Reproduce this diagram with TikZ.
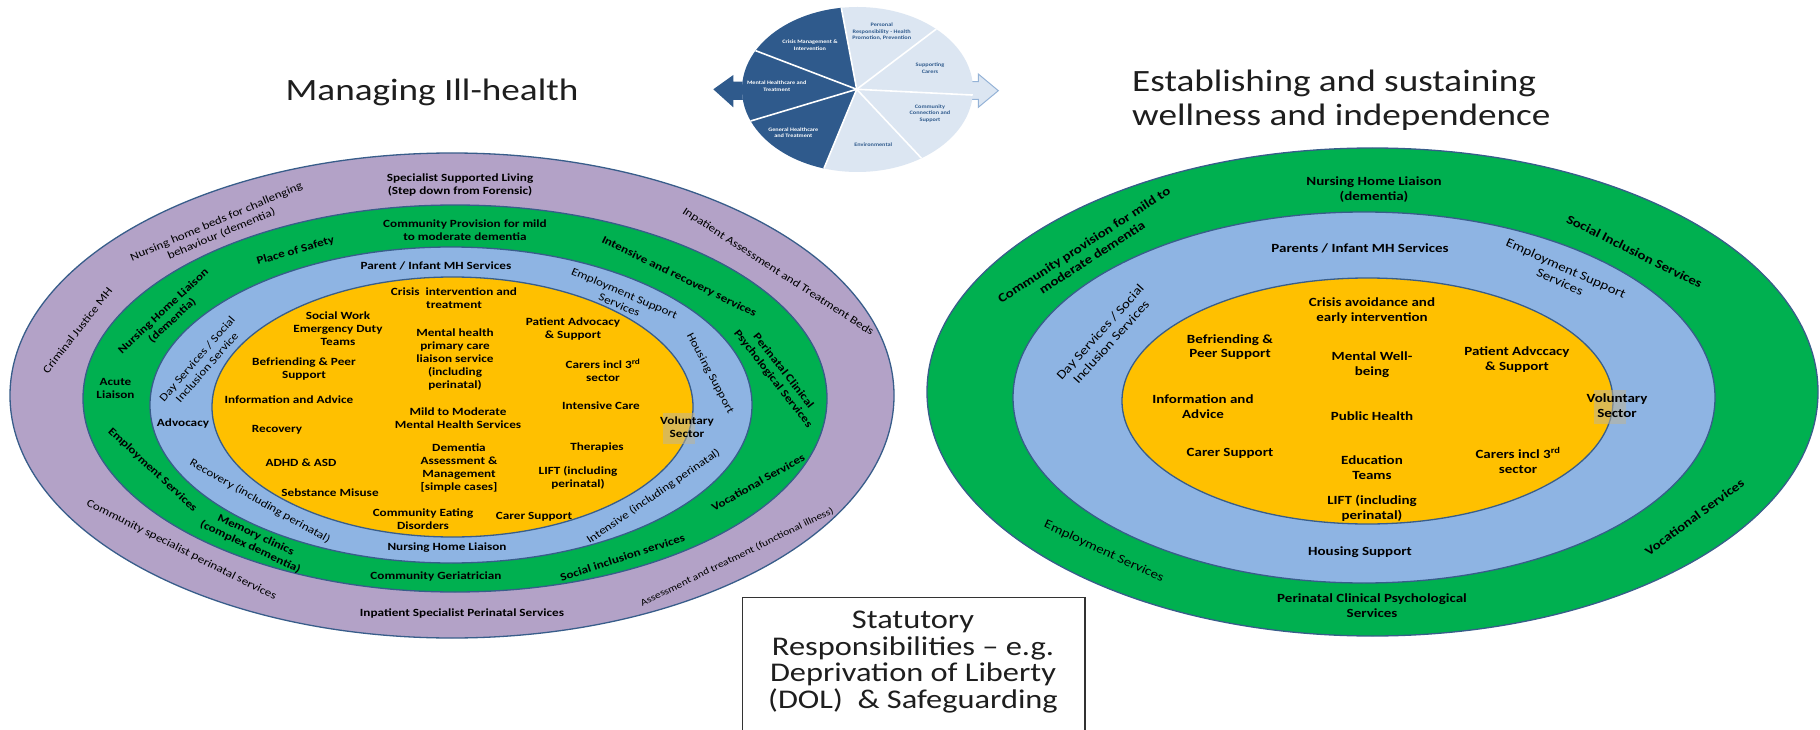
\documentclass[tikz,border=0pt]{standalone}
\usepackage{fontspec}
\setmainfont{Carlito}[FakeStretch=1.2]
\usetikzlibrary{calc}
\definecolor{purp}{RGB}{179,162,199}
\definecolor{grn}{RGB}{0,176,80}
\definecolor{lblue}{RGB}{142,180,227}
\definecolor{yel}{RGB}{255,192,0}
\definecolor{edgec}{RGB}{56,93,138}
\definecolor{piedark}{RGB}{47,90,140}
\definecolor{pielight}{RGB}{220,230,242}
\definecolor{arrowedge}{RGB}{149,179,215}
\definecolor{titlec}{RGB}{30,30,30}
\definecolor{patchc}{RGB}{190,180,150}
\begin{document}
\begin{tikzpicture}[x=1pt,y=-1pt,
  ring/.style={draw=edgec, line width=1.3pt},
  lt/.style={font=\fontsize{11}{13}\selectfont\bfseries, align=center, inner sep=0pt, text=black},
  ltr/.style={font=\fontsize{11}{13}\selectfont, align=center, inner sep=0pt, text=black},
  rt/.style={font=\fontsize{12.5}{14.8}\selectfont\bfseries, align=center, inner sep=0pt, text=black},
  rtr/.style={font=\fontsize{12.5}{14.8}\selectfont, align=center, inner sep=0pt, text=black},
  pietxt/.style={font=\fontsize{5.2}{6.7}\selectfont\bfseries, align=center, inner sep=0pt},
  titletxt/.style={font=\fontsize{31}{34}\selectfont, inner sep=0pt, text=titlec},
  boxtxt/.style={font=\fontsize{27}{26.7}\selectfont, align=center, inner sep=0pt, text=titlec},
  volpatch/.style={fill=patchc, opacity=0.55}
]
\useasboundingbox (0,0) rectangle (1820,730);
\fill[white] (0,0) rectangle (1820,730);

% ---------- left rings ----------
\filldraw[ring,fill=purp] (452,395.5) ellipse [x radius=442pt,y radius=242.5pt];
\filldraw[ring,fill=grn] (455,398.5) ellipse [x radius=372pt,y radius=193.5pt];
\filldraw[ring,fill=lblue] (451,405) ellipse [x radius=301pt,y radius=158pt];
\filldraw[ring,fill=yel] (452.5,407) ellipse [x radius=240.5pt,y radius=130pt];

% ---------- right rings ----------
\filldraw[ring,fill=grn] (1372.5,392) ellipse [x radius=445.5pt,y radius=244pt];
\filldraw[ring,fill=lblue] (1364,397.5) ellipse [x radius=351pt,y radius=185.5pt];
\filldraw[ring,fill=yel] (1367.5,401) ellipse [x radius=245.5pt,y radius=123pt];

\fill[volpatch] (663,413) rectangle (695,444);
\fill[volpatch] (1594,390) rectangle (1626,424);

% ---------- pie ----------
\fill[piedark] (745,81.7) -- (733.3,81.7) -- (733.3,75) -- (713.3,89.3) -- (733.3,107.3) -- (733.3,100) -- (745,100) -- cycle;
\filldraw[fill=pielight, draw=arrowedge, line width=1pt] (968,81.7) -- (978.3,81.7) -- (978.3,74) -- (998.3,90.7) -- (978.3,107.3) -- (978.3,99.3) -- (968,99.3) -- cycle;
\coordinate (pc) at (856.7,89.3);
\coordinate (e1) at (841.7,10);
\coordinate (e2) at (758.3,51.7);
\coordinate (e3) at (748.3,121.7);
\coordinate (e4) at (823.3,170);
\coordinate (e5) at (920,156.7);
\coordinate (e6) at (971.7,95);
\coordinate (e7) at (935,30);
\fill[pielight] (857.5,89.5) ellipse [x radius=115.5pt, y radius=82.5pt];
\begin{scope}
\clip (857.5,89.5) ellipse [x radius=115.5pt, y radius=82.5pt];
\fill[piedark] (pc) -- ($(pc)!3!(e1)$) -- ($(pc)!3!(e2)$) -- ($(pc)!3!(e3)$) -- ($(pc)!3!(e4)$) -- cycle;
\foreach \e in {e1,e2,e3,e4,e5,e6,e7} \draw[white, line width=1.6pt] (pc) -- ($(pc)!1.3!(\e)$);
\end{scope}
\node[pietxt, text=white] (p1) at (810,45) {Crisis Management \&\\Intervention};
\node[pietxt, text=white] (p2) at (776.7,86) {Mental Healthcare and\\Treatment};
\node[pietxt, text=white] (p3) at (793.3,132.7) {General Healthcare\\and Treatment};
\node[pietxt, text=piedark] (p4) at (881.7,31.7) {Personal\\Responsibility - Health\\Promotion, Prevention};
\node[pietxt, text=piedark] (p5) at (930,68.3) {Supporting\\Carers};
\node[pietxt, text=piedark] (p6) at (930,113.3) {Community\\Connection and\\Support};
\node[pietxt, text=piedark] (p7) at (873.3,145) {Environmental};

% ---------- titles ----------
\node[titletxt] (tl) at (432,92) {Managing Ill-health};
\node[titletxt, align=left, anchor=west] (tr) at (1132,100) {Establishing and sustaining\\wellness and independence};

% ---------- left: purple ----------
\node[lt] (lp1) at (460,185.5) {Specialist Supported Living\\(Step down from Forensic)};
\node[ltr, rotate=23] (lp2) at (219,228) {Nursing home beds for challenging\\behaviour (dementia)};
\node[ltr, rotate=52] (lp3) at (77.5,330.5) {Criminal Justice MH};
\node[ltr, rotate=-33] (lp4) at (778,272) {Inpatient Assessment and Treatment Beds};
\node[ltr, rotate=-26.7] (lp5) at (181.5,550) {Community specialist perinatal services};
\node[lt] (lp6) at (462,613) {Inpatient Specialist Perinatal Services};
\node[ltr, rotate=26, font=\fontsize{9.6}{11}\selectfont] (lp7) at (737,557) {Assessment and treatment (functional illness)};

% ---------- left: green ----------
\node[lt] (lg1) at (465,230.5) {Community Provision for mild\\to moderate dementia};
\node[lt, rotate=16] (lg2) at (295.5,251) {Place of Safety};
\node[lt, rotate=43] (lg3) at (168,316) {Nursing Home Liaison\\(dementia)};
\node[lt] (lg4) at (115.5,388.5) {Acute\\Liaison};
\node[lt, rotate=-43] (lg5) at (152.5,470) {Employment Services};
\node[lt, rotate=-25] (lg6) at (253,541) {Memory clinics\\(complex dementia)};
\node[lt] (lg7) at (436,577) {Community Geriatrician};
\node[lt, rotate=18] (lg8) at (622.5,557.5) {Social inclusion services};
\node[lt, rotate=29.5] (lg9) at (758,482.5) {Vocational Services};
\node[lt, rotate=-52] (lg10) at (778,375) {Perinatal Clinical\\Psychological Services};
\node[lt, rotate=-26] (lg11) at (679,277) {Intensive and recovery services};

% ---------- left: blue ----------
\node[lt] (lb1) at (436,266) {Parent / Infant MH Services};
\node[ltr, rotate=49] (lb2) at (202,363) {Day Services / Social\\Inclusion Service};
\node[lt] (lb3) at (183,424) {Advocacy};
\node[ltr, rotate=-29.5] (lb4) at (260,501.5) {Recovery (including perinatal)};
\node[lt] (lb5) at (447,548) {Nursing Home Liaison};
\node[ltr, rotate=34.4] (lb6) at (653.5,496.5) {Intensive (including perinatal)};
\node[ltr, rotate=-62] (lb7) at (710,373.5) {Housing Support};
\node[ltr, rotate=-23] (lb8) at (622,299) {Employment Support\\Services};
\node[lt] (lvol) at (687,427) {Voluntary\\Sector};

% ---------- left: yellow ----------
\node[lt] (ly1) at (454,298) {Crisis\ \ intervention and\\treatment};
\node[lt] (ly2) at (338,328.5) {Social Work\\Emergency Duty\\Teams};
\node[lt] (ly3) at (455,360) {Mental health\\primary care\\liaison service\\(including\\perinatal)};
\node[lt] (ly4) at (573,328.5) {Patient Advocacy\\\& Support};
\node[lt] (ly5) at (304,369.5) {Befriending \& Peer\\Support};
\node[lt] (ly6) at (603,370.5) {Carers incl 3\textsuperscript{rd}\\sector};
\node[lt] (ly7) at (289,400) {Information and Advice};
\node[lt] (ly8) at (601,406) {Intensive Care};
\node[lt] (ly9) at (458,418) {Mild to Moderate\\Mental Health Services};
\node[lt] (ly10) at (277,430) {Recovery};
\node[lt] (ly11) at (597,448) {Therapies};
\node[lt] (ly12) at (459,467.5) {Dementia\\Assessment \&\\Management\\{[simple cases]}};
\node[lt] (ly13) at (301,463) {ADHD \& ASD};
\node[lt] (ly14) at (578,478) {LIFT (including\\perinatal)};
\node[lt] (ly15) at (330,493) {Sebstance Misuse};
\node[lt] (ly16) at (423,519) {Community Eating\\Disorders};
\node[lt] (ly17) at (534,517) {Carer Support};

% ---------- right: green ----------
\node[rt, rotate=33] (rg1) at (1088,251) {Community provision for mild to\\moderate dementia};
\node[rt] (rg2) at (1374,189.5) {Nursing Home Liaison\\(dementia)};
\node[rt, rotate=-26.4] (rg3) at (1634.5,251.5) {Social Inclusion Services};
\node[rtr, rotate=-25] (rg4) at (1104,551.5) {Employment Services};
\node[rt] (rg5) at (1372,605.5) {Perinatal Clinical Psychological\\Services};
\node[rt, rotate=36.4] (rg6) at (1694.5,517) {Vocational Services};

% ---------- right: blue ----------
\node[rt] (rb1) at (1360,248) {Parents / Infant MH Services};
\node[rtr, rotate=48] (rb2) at (1105.5,337) {Day Services / Social\\Inclusion Services};
\node[rtr, rotate=-24] (rb3) at (1563,275) {Employment Support\\Services};
\node[rt] (rb4) at (1360,552) {Housing Support};
\node[rt] (rvol) at (1617,406) {Voluntary\\Sector};

% ---------- right: yellow ----------
\node[rt] (ry1) at (1372,310.5) {Crisis avoidance and\\early intervention};
\node[rt] (ry2) at (1230,347) {Befriending \&\\Peer Support};
\node[rt] (ry3) at (1372,365) {Mental Well-\\being};
\node[rt] (ry4) at (1517,359.5) {Patient Advccacy\\\& Support};
\node[rt] (ry5) at (1203,406.5) {Information and\\Advice};
\node[rt] (ry6) at (1372,416) {Public Health};
\node[rt] (ry7) at (1230,453) {Carer Support};
\node[rt] (ry8) at (1372,468) {Education\\Teams};
\node[rt] (ry9) at (1518,460.5) {Carers incl 3\textsuperscript{rd}\\sector};
\node[rt] (ry10) at (1372,508) {LIFT (including\\perinatal)};

% ---------- statutory box ----------
\draw[draw=black!80, line width=1.3pt, fill=white] (742.5,597.5) rectangle (1085,745);
\node[boxtxt] (stat) at (913,662) {Statutory\\Responsibilities – e.g.\\Deprivation of Liberty\\(DOL)\ \ \& Safeguarding};
\end{tikzpicture}
\end{document}
